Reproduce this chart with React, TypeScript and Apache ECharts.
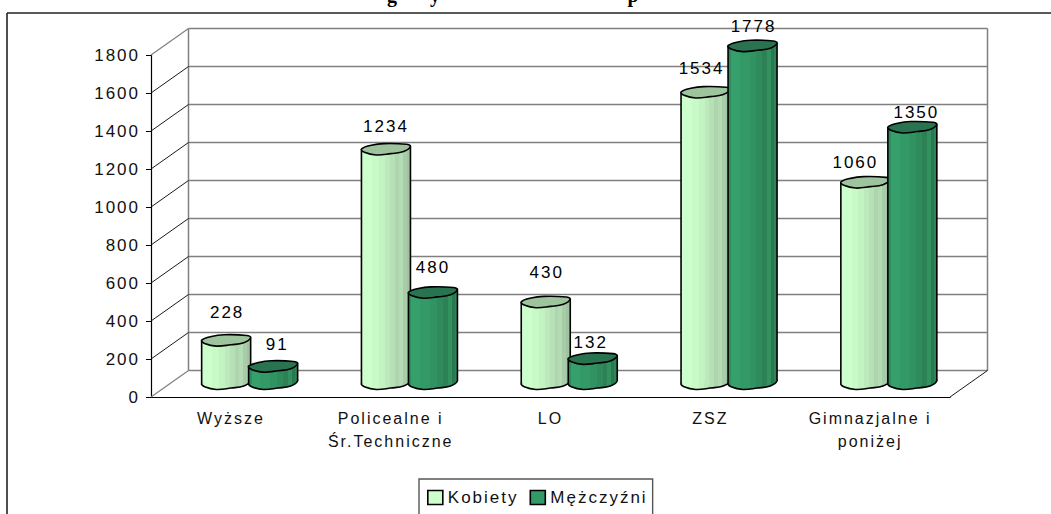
import React, { useEffect, useRef } from "react";
import * as echarts from "echarts";

const categories = ["Wyższe", "Policealne i\nŚr.Techniczne", "LO", "ZSZ", "Gimnazjalne i\nponiżej"];
const kobiety = [228, 1234, 430, 1534, 1060];
const mezczyzni = [91, 480, 132, 1778, 1350];
const yTicks = [0, 200, 400, 600, 800, 1000, 1200, 1400, 1600, 1800];
const titleFragments = ["g", "y", "p"];

// layout constants (not data)
const titleX = [393, 436, 634];
const DX = 37.5;
const DY = -26.5;
const RX = 24.5;
const SHIFT = 23.5;
const RIGHT_RISE = 3;
const capOutline = [
  [-1, -0.3], [-0.6, -4], [-0.08, -5.7], [0.84, -5], [1, -3],
  [0.72, 2.3], [0.2, 4.3], [-0.4, 5.7], [-0.88, 3],
];
const nudgeK = [[1, 28], [0, 23], [1, 30], [-4, 24], [-10, 20]];
const nudgeM = [[4, 22], [0, 25], [-2, 16], [1, 19], [4, 15]];

const FONT = '"Liberation Sans", Arial, sans-serif';

const bands = (pairs: [number, string][]) => {
  const stops: any[] = [];
  pairs.forEach(([o, c], i) => {
    stops.push({ offset: o, color: c });
    const next = pairs[i + 1];
    if (next) stops.push({ offset: next[0], color: c });
  });
  stops.push({ offset: 1, color: pairs[pairs.length - 1][1] });
  return { type: "linear", x: 0, y: 0, x2: 1, y2: 0, colorStops: stops };
};

const femaleFill = bands([
  [0, "#ccffcc"], [0.22, "#c8fac8"], [0.36, "#c3f3c3"], [0.48, "#bde9bd"],
  [0.58, "#b6e0b6"], [0.68, "#aed5ae"], [0.76, "#b4dcb4"], [0.84, "#a8cca8"], [0.92, "#a0c4a0"],
]);
const maleFill = bands([
  [0, "#2f8c5d"], [0.06, "#36a06c"], [0.24, "#339966"], [0.44, "#319361"],
  [0.58, "#2f8b5c"], [0.7, "#2c8155"], [0.8, "#33905f"], [0.88, "#2a784f"], [0.94, "#2f8457"],
]);

const cap = (cx: number, cy: number) =>
  capOutline.map(([u, v]) => [cx + u * RX, cy + v]);

const cylinder = (
  sign: number,
  fill: any,
  topFill: string,
  nudge: number[][],
) => (_: any, api: any) => {
  const idx = api.value(0);
  const val = api.value(1);
  const base = api.coord([idx, 0]);
  const top = api.coord([idx, val]);
  const cx = base[0] + DX / 2 + sign * SHIFT;
  const yb = base[1] + DY / 2;
  const yt = top[1] + DY / 2;
  const [lx, ly] = nudge[idx];
  const stroke = { stroke: "#000", lineWidth: 1.6 };
  return {
    type: "group",
    children: [
      { type: "polygon", shape: { points: cap(cx, yb), smooth: 0.4 }, style: { fill, ...stroke } },
      {
        type: "polygon",
        shape: {
          points: [
            [cx - RX, yt], [cx + RX, yt - RIGHT_RISE], [cx + RX, yb - RIGHT_RISE], [cx - RX, yb],
          ],
        },
        style: { fill },
      },
      { type: "line", shape: { x1: cx - RX, y1: yt, x2: cx - RX, y2: yb }, style: stroke },
      { type: "line", shape: { x1: cx + RX, y1: yt - RIGHT_RISE, x2: cx + RX, y2: yb - RIGHT_RISE }, style: stroke },
      { type: "polygon", shape: { points: cap(cx, yt), smooth: 0.4 }, style: { fill: topFill, ...stroke } },
      {
        type: "text",
        style: {
          text: String(val), x: cx + lx, y: yt - ly, fill: "#000",
          font: `17px ${FONT}`, align: "center", verticalAlign: "middle",
        },
      },
    ],
  };
};

const wall = (params: any, api: any) => {
  const cs = params.coordSys;
  const v = api.value(0);
  const y = api.coord([0, v])[1];
  const left = cs.x;
  const right = cs.x + cs.width;
  const gray = { stroke: "#808080", lineWidth: 1.5 };
  const children: any[] = [
    { type: "line", shape: { x1: left + DX, y1: y + DY, x2: right + DX, y2: y + DY }, style: gray },
    {
      type: "line",
      shape: { x1: left, y1: y, x2: left + DX, y2: y + DY },
      style: v === 0 || v === yTicks[yTicks.length - 1] ? { stroke: "#808080", lineWidth: 1.2 } : { stroke: "#000", lineWidth: 0.9 },
    },
  ];
  if (v === 0) {
    children.push(
      { type: "line", shape: { x1: left + DX, y1: cs.y + DY, x2: left + DX, y2: y + DY }, style: gray },
      { type: "line", shape: { x1: right + DX, y1: cs.y + DY, x2: right + DX, y2: y + DY }, style: gray },
      { type: "line", shape: { x1: right, y1: y, x2: right + DX, y2: y + DY }, style: { stroke: "#000", lineWidth: 0.9 } },
    );
  }
  return { type: "group", children };
};

export default function App() {
  const ref = useRef<HTMLDivElement>(null);
  useEffect(() => {
    document.body.style.margin = "0";
    const chart = echarts.init(ref.current!, null, { renderer: "svg" });
    chart.setOption({
      animation: false,
      backgroundColor: "#fff",
      grid: { left: 151, right: 101, top: 55, height: 342, containLabel: false },
      xAxis: {
        type: "category",
        data: categories,
        boundaryGap: true,
        axisLine: { lineStyle: { color: "#000", width: 1.2 } },
        axisTick: { alignWithLabel: false, length: 6, lineStyle: { color: "#000" } },
        axisLabel: { color: "#111", fontFamily: FONT, fontSize: 16, lineHeight: 23, margin: 10, interval: 0 },
      },
      yAxis: {
        type: "value",
        min: 0,
        max: 1800,
        interval: 200,
        splitLine: { show: false },
        axisLine: { show: true, lineStyle: { color: "#000", width: 1.2 } },
        axisTick: { show: true, length: 5, lineStyle: { color: "#000" } },
        axisLabel: { color: "#111", fontFamily: FONT, fontSize: 17, margin: 11, formatter: (v: number) => String(v) },
      },
      legend: {
        left: 419,
        top: 479,
        orient: "horizontal",
        data: ["Kobiety", "Mężczyźni"],
        icon: "rect",
        itemWidth: 15,
        itemHeight: 14,
        itemGap: 25,
        padding: [10, 23, 30, 8],
        borderColor: "#555",
        borderWidth: 1.4,
        textStyle: { color: "#111", fontFamily: FONT, fontSize: 17 },
        itemStyle: { borderColor: "#000", borderWidth: 1.6 },
      },
      graphic: [
        { type: "line", shape: { x1: 7, y1: 13, x2: 1051, y2: 13 }, style: { stroke: "#222", lineWidth: 1.6 } },
        { type: "line", shape: { x1: 7, y1: 13, x2: 7, y2: 514 }, style: { stroke: "#222", lineWidth: 1.6 } },
        ...titleFragments.map((t, i) => ({
          type: "text",
          x: titleX[i],
          y: 4.5,
          style: { text: t, fill: "#000", font: 'bold 20px "Liberation Serif", serif', align: "center", verticalAlign: "bottom" },
        })),
      ],
      series: [
        { type: "custom", name: "wall", silent: true, clip: false, renderItem: wall, data: yTicks.map((v) => [v]), encode: { y: 0 }, z: 1 },
        {
          type: "custom", name: "Kobiety", clip: false, z: 2,
          itemStyle: { color: "#ccffcc" },
          renderItem: cylinder(-1, femaleFill, "#9dc49d", nudgeK),
          data: kobiety.map((v, i) => [i, v]), encode: { x: 0, y: 1 },
        },
        {
          type: "custom", name: "Mężczyźni", clip: false, z: 3,
          itemStyle: { color: "#339966" },
          renderItem: cylinder(1, maleFill, "#2a7350", nudgeM),
          data: mezczyzni.map((v, i) => [i, v]), encode: { x: 0, y: 1 },
        },
      ],
    });
    return () => chart.dispose();
  }, []);
  return <div ref={ref} style={{ width: 1051, height: 514, overflow: "hidden", letterSpacing: "2px" }} />;
}
